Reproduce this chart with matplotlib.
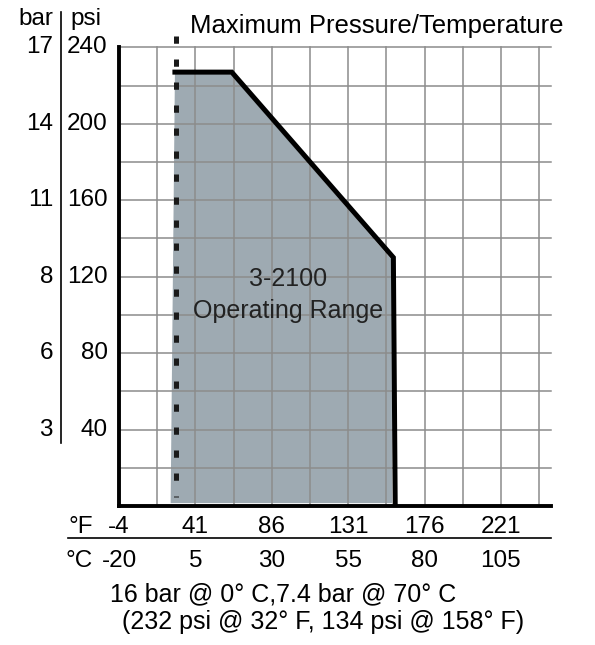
import numpy as np
import matplotlib
matplotlib.use("Agg")
import matplotlib.pyplot as plt

plt.rcParams["font.family"] = ["Liberation Sans", "DejaVu Sans"]

# temperature in deg C, pressure in psi
curve_c = [-1.7, 16.9, 69.8, 70.4]
curve_psi = [227, 227, 130, 0]

fill_c = [-3.1, -1.7, 16.6, 69.2, 69.4]
fill_psi = [1.5, 226, 226, 129, 1.5]

limit_c = -1.4
limit_psi = [246, 4.7]

psi_ticks = [40, 80, 120, 160, 200, 240]
bar_labels = ["3", "6", "8", "11", "14", "17"]
c_ticks = [-20, 5, 30, 55, 80, 105]
f_labels = ["-4", "41", "86", "131", "176", "221"]

grid_c = np.arange(-20, 118, 12.5)
grid_psi = np.arange(0, 241, 20)

fig = plt.figure(figsize=(5.95, 6.45), dpi=100)
ax = fig.add_axes([0.2, 0.2155, 0.7261, 0.7112])
ax.set_xlim(-20, 121.4)
ax.set_ylim(0, 240)

ax.set_xticks(grid_c)
ax.set_yticks(grid_psi)
ax.tick_params(length=0, labelbottom=False, labelleft=False)
ax.set_axisbelow(True)
ax.grid(True, color="#8c8c8c", lw=1.1)
for gl in ax.get_xgridlines() + ax.get_ygridlines():
    gl.set_clip_on(False)

for s in ["top", "right"]:
    ax.spines[s].set_visible(False)
for s in ["left", "bottom"]:
    ax.spines[s].set_linewidth(2.8)
    ax.spines[s].set_zorder(4)

ax.fill(fill_c, fill_psi, color="#9eaab2", zorder=0.2, lw=0)
ax.plot(curve_c, curve_psi, color="black", lw=3.6, solid_joinstyle="miter", zorder=3)
ax.plot([limit_c, limit_c], limit_psi, color="#1a1a1a", lw=3.6,
        ls=(0, (1.45, 3.15)), clip_on=False, zorder=3)

fs = 17.5
ytr = ax.get_yaxis_transform()
xtr = ax.get_xaxis_transform()

# left labels
for p, b in zip(psi_ticks, bar_labels):
    ax.text(-0.026, p, str(p), transform=ytr, ha="right", va="center", fontsize=fs)
    ax.text(-0.153, p, b, transform=ytr, ha="right", va="center", fontsize=fs)
ax.text(-0.153, 1.049, "bar", transform=ax.transAxes, ha="right", va="baseline", fontsize=fs)
ax.text(-0.113, 1.049, "psi", transform=ax.transAxes, ha="left", va="baseline", fontsize=fs)
ax.plot([-0.134, -0.134], [0.137, 1.077], transform=ax.transAxes, color="black",
        lw=1.2, clip_on=False)

# bottom labels
for c, f in zip(c_ticks, f_labels):
    ax.text(c, -0.046, f, transform=xtr, ha="center", va="center", fontsize=fs)
    ax.text(c, -0.119, str(c), transform=xtr, ha="center", va="center", fontsize=fs)
ax.text(-0.118, -0.046, "°F", transform=ax.transAxes, ha="left", va="center", fontsize=fs)
ax.text(-0.123, -0.119, "°C", transform=ax.transAxes, ha="left", va="center", fontsize=fs)
ax.plot([-0.118, 1.0], [-0.0698, -0.0698], transform=ax.transAxes, color="black",
        lw=1.2, clip_on=False)

ax.text(0.164, 1.031, "Maximum Pressure/Temperature", transform=ax.transAxes,
        ha="left", va="baseline", fontsize=18.5)

ax.text(35.2, 119, "3-2100", ha="center", va="center", fontsize=18, color="#222222")
ax.text(35.2, 102, "Operating Range", ha="center", va="center", fontsize=18, color="#222222")

fig.text(110 / 595, 1 - 601 / 645, "16 bar @ 0° C,7.4 bar @ 70° C",
         ha="left", va="baseline", fontsize=18)
fig.text(122 / 595, 1 - 629 / 645, "(232 psi @ 32° F, 134 psi @ 158° F)",
         ha="left", va="baseline", fontsize=18)

fig.savefig("out.png", dpi=100)
